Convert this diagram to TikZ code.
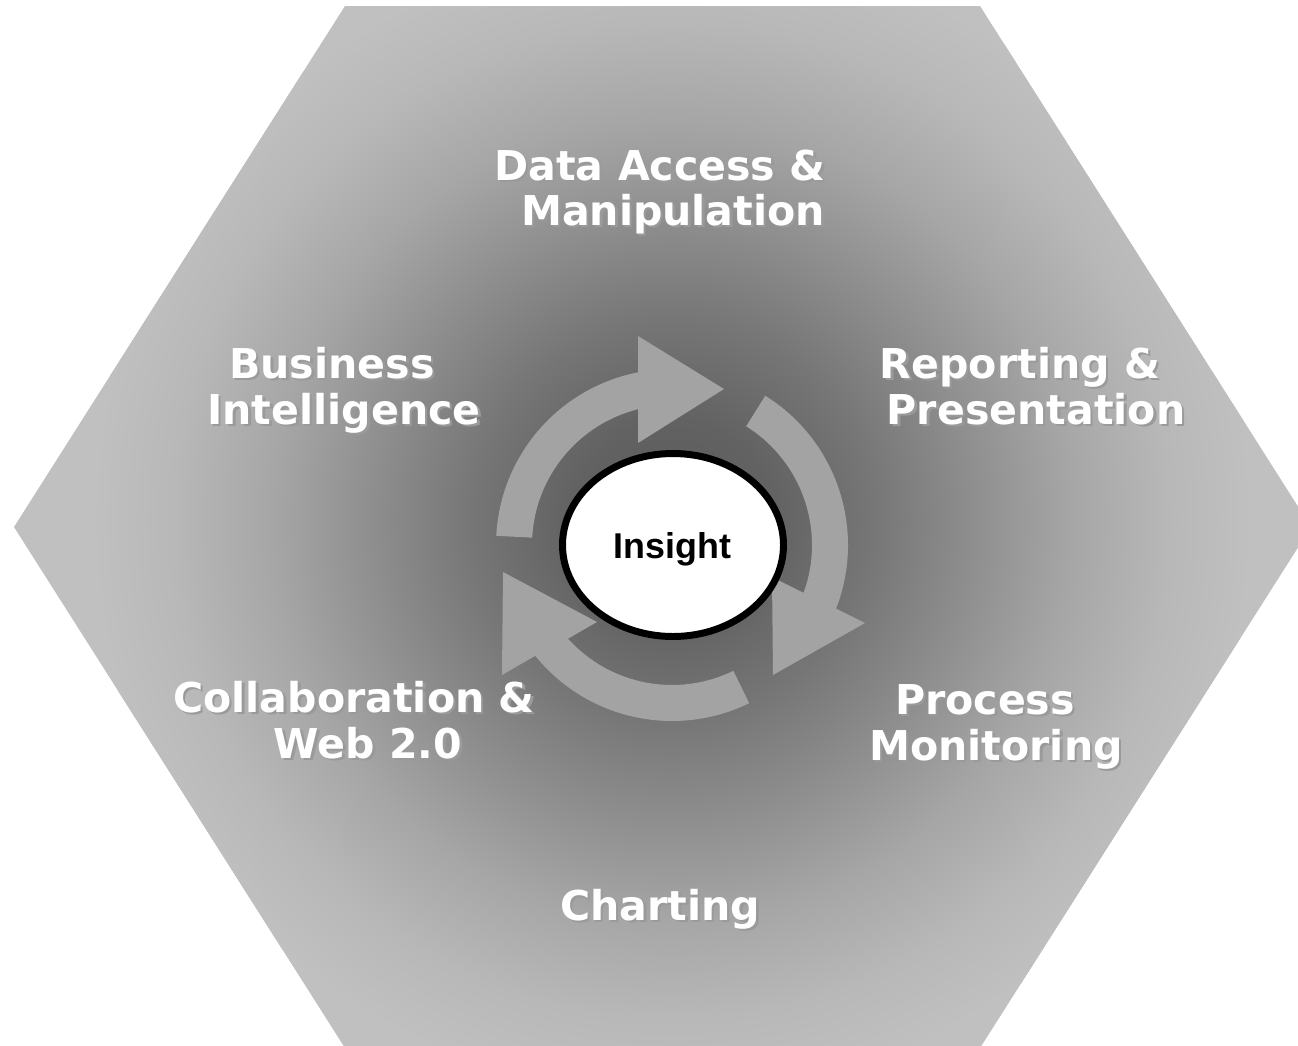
\documentclass[tikz,border=0pt]{standalone}
\usepackage{fontspec}
\usetikzlibrary{calc}
\newfontfamily\dejafont{DejaVu Sans}
\newfontfamily\libfont{Liberation Sans}
\definecolor{g0}{HTML}{5A5A5A}
\definecolor{g1}{HTML}{626262}
\definecolor{g2}{HTML}{767676}
\definecolor{g3}{HTML}{8E8E8E}
\definecolor{g4}{HTML}{A6A6A6}
\definecolor{g5}{HTML}{B8B8B8}
\definecolor{g6}{HTML}{C0C0C0}
\definecolor{arrowgray}{HTML}{A3A3A3}
\definecolor{shadowgray}{HTML}{9A9A9A}
\pgfdeclareradialshading{hexglow}{\pgfpoint{0bp}{0bp}}{color(0bp)=(g0); color(4.31bp)=(g1); color(8.62bp)=(g2); color(12.93bp)=(g3); color(17.24bp)=(g4); color(21.55bp)=(g5); color(25bp)=(g6); color(50bp)=(g6)}
\newcommand\mylab[4]{%
  \node[lblshadow] (#1s) at (#2+2.5,#3+2.5) {#4};
  \node[lbl] (#1) at (#2,#3) {#4};}
\tikzset{
  lbltext/.style={font=\dejafont\bfseries\fontsize{23.4}{28}\selectfont, anchor=base, inner sep=0pt},
  lbl/.style={lbltext, text=white},
  lblshadow/.style={lbltext, text=shadowgray},
  cyclearrow/.style={fill=arrowgray},
  core/.style={draw=black, fill=white, line width=3.97pt, ellipse, minimum width=221, minimum height=183},
}
\begin{document}
\begin{tikzpicture}[x=0.02cm,y=-0.02cm]
\useasboundingbox (0,0) rectangle (1298,1045);
\fill[white] (0,0) rectangle (1298,1045);
\clip (0,0) rectangle (1298,1045);
% hexagon
\fill[g6] (345,6) -- (980,6) -- (1311,527) -- (980,1048) -- (345,1048) -- (14,527) -- cycle;
\begin{scope}
  \clip (345,6) -- (980,6) -- (1311,527) -- (980,1048) -- (345,1048) -- (14,527) -- cycle;
  \shade[shading=hexglow] (672,520) circle (580);
\end{scope}
\coordinate (c) at (672,545);
% cycle arrows
\fill[cyclearrow] ($(c)+(-177:176)$) arc[start angle=-177, end angle=-101.1, radius=176]
  -- (638,336) -- (724,389) -- (638,443) -- ($(c)+(-104.05:140)$)
  arc[start angle=-104.05, end angle=-177, radius=140] -- cycle;
\fill[cyclearrow] ($(c)+(-58:176)$) arc[start angle=-58, end angle=21.2, radius=176]
  -- (865,623) -- (773,675) -- (772,577) -- ($(c)+(20:140)$)
  arc[start angle=20, end angle=-58, radius=140] -- cycle;
\fill[cyclearrow] ($(c)+(64:176)$) arc[start angle=64, end angle=141, radius=176]
  -- (502,675) -- (503,572) -- (597,622) -- ($(c)+(138:140)$)
  arc[start angle=138, end angle=64, radius=140] -- cycle;
% centre
\draw[draw=black, fill=white, line width=3.97pt] (673,545) ellipse[x radius=110.5, y radius=91.5];
\node[font=\libfont\bfseries\fontsize{20.4}{24}\selectfont, anchor=base, inner sep=0pt] (insight) at (672.5,558) {Insight};
% labels
\mylab{dam1}{660}{180}{Data Access \&}
\mylab{dam2}{673}{225}{Manipulation}
\mylab{bi1}{332}{378}{Business}
\mylab{bi2}{344}{424}{Intelligence}
\mylab{rp1}{1020}{378}{Reporting \&}
\mylab{rp2}{1036}{424}{Presentation}
\mylab{cw1}{354}{712}{Collaboration \&}
\mylab{cw2}{368}{758}{Web 2.0}
\mylab{pm1}{985}{714}{Process}
\mylab{pm2}{996}{760}{Monitoring}
\mylab{ch}{660}{920}{Charting}
\end{tikzpicture}
\end{document}
